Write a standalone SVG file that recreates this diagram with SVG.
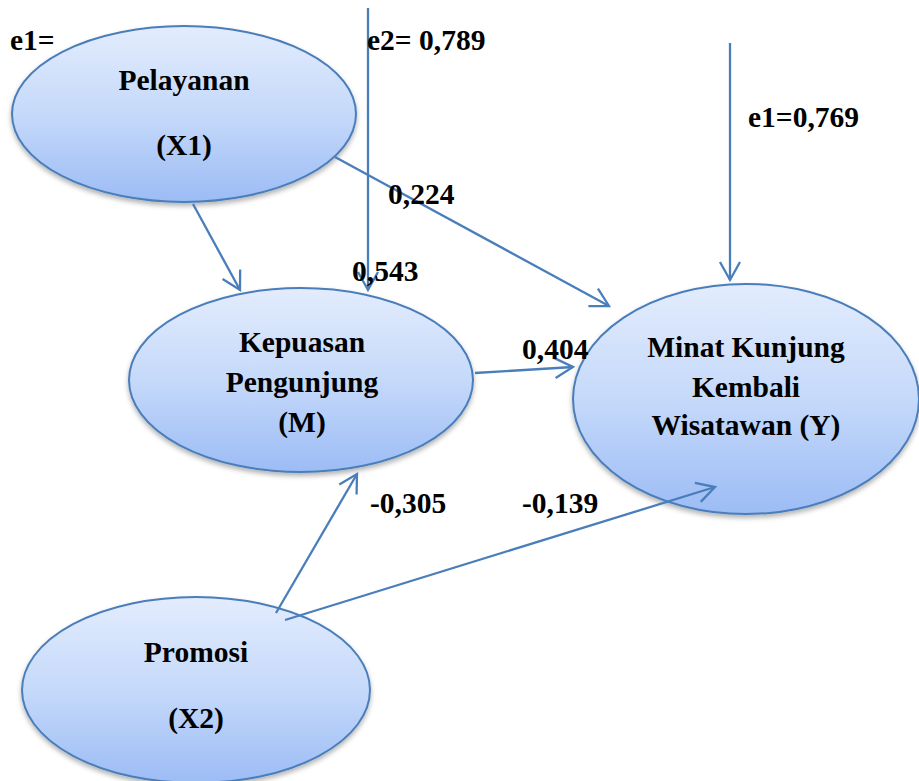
<svg xmlns="http://www.w3.org/2000/svg" width="919" height="781" viewBox="0 0 919 781">
  <style>
    .node { fill: url(#g); stroke: #4a7ebb; stroke-width: 2; filter: url(#sh); }
    .t { font-family: "Liberation Serif", "Times New Roman", serif; font-weight: bold; font-size: 29.5px; fill: #000; }
    .c { text-anchor: middle; }
    .edge { stroke: #4a7ebb; stroke-width: 2.3; fill: none; marker-end: url(#arr); }
  </style>
  <defs>
    <linearGradient id="g" x1="0" y1="0" x2="0" y2="1">
      <stop offset="0" stop-color="#e3ecfd"/>
      <stop offset="0.5" stop-color="#c5d9fa"/>
      <stop offset="1" stop-color="#9cbcf5"/>
    </linearGradient>
    <filter id="sh" x="-10%" y="-10%" width="120%" height="130%">
      <feDropShadow dx="0" dy="3" stdDeviation="2.5" flood-color="#000" flood-opacity="0.3"/>
    </filter>
    <marker id="arr" markerUnits="userSpaceOnUse" viewBox="-20 -12 24 24" refX="0" refY="0" markerWidth="24" markerHeight="24" orient="auto">
      <path d="M-18,-10 L0,0 L-18,10" fill="none" stroke="#4a7ebb" stroke-width="2.3"/>
    </marker>
  </defs>

  <g id="pelayanan">
    <ellipse class="node" cx="184" cy="114" rx="172" ry="88"/>
    <text class="t c" x="184" y="90">Pelayanan</text>
    <text class="t c" x="184" y="155">(X1)</text>
  </g>

  <g id="kepuasan">
    <ellipse class="node" cx="301" cy="380" rx="172" ry="92"/>
    <text class="t c" x="302" y="352">Kepuasan</text>
    <text class="t c" x="302" y="392">Pengunjung</text>
    <text class="t c" x="302" y="432">(M)</text>
  </g>

  <g id="minat">
    <ellipse class="node" cx="746" cy="399" rx="173" ry="115"/>
    <text class="t c" x="746" y="357">Minat Kunjung</text>
    <text class="t c" x="746" y="397">Kembali</text>
    <text class="t c" x="746" y="435">Wisatawan (Y)</text>
  </g>

  <g id="promosi">
    <ellipse class="node" cx="196" cy="690" rx="174" ry="93"/>
    <text class="t c" x="196" y="662">Promosi</text>
    <text class="t c" x="196" y="728">(X2)</text>
  </g>

  <g id="connectors">
    <line class="edge" x1="368" y1="8" x2="368" y2="290"/>
    <line class="edge" x1="730" y1="43" x2="730" y2="280"/>
    <line class="edge" x1="193" y1="204" x2="240" y2="290"/>
    <line class="edge" x1="335" y1="157" x2="609" y2="306"/>
    <line class="edge" x1="475" y1="373" x2="573" y2="367"/>
    <line class="edge" x1="276" y1="613" x2="357" y2="474"/>
    <line class="edge" x1="285" y1="620" x2="715" y2="487"/>
  </g>

  <g id="labels">
    <text class="t" x="10" y="50">e1=</text>
    <text class="t" x="367" y="50">e2= 0,789</text>
    <text class="t" x="748" y="127">e1=0,769</text>
    <text class="t" x="388" y="204">0,224</text>
    <text class="t" x="352" y="281">0,543</text>
    <text class="t" x="522" y="359">0,404</text>
    <text class="t" x="370" y="513">-0,305</text>
    <text class="t" x="522" y="513">-0,139</text>
  </g>
</svg>
